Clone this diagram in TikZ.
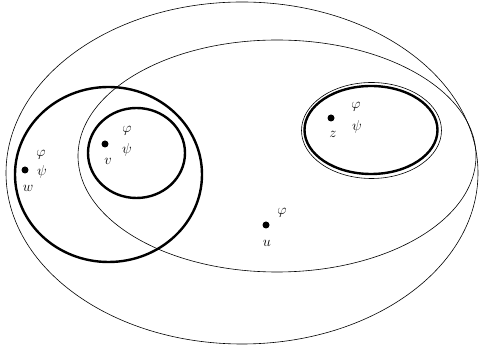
\documentclass[tikz,border=0pt]{standalone}
\begin{document}
\begin{tikzpicture}[x=1pt,y=-1pt,
  thinline/.style={line width=0.6pt},
  thickline/.style={line width=2.4pt},
  world/.style={circle,fill=black,inner sep=0pt,minimum size=7pt},
  lbl/.style={inner sep=0pt,font=\Large}]
\useasboundingbox (0,0) rectangle (480,352);
\draw[thinline] (242,173) ellipse [x radius=236, y radius=171];
\draw[thinline] (277,156) ellipse [x radius=199, y radius=116];
\draw[thickline] (108.5,174.5) ellipse [x radius=93.5, y radius=87.5];
\draw[thickline] (136.5,153) ellipse [x radius=48.5, y radius=45];
\draw[thickline] (371,130) ellipse [x radius=66.5, y radius=44];
\draw[thinline] (371.5,130.5) ellipse [x radius=70, y radius=48];
% worlds
\node[world] (w) at (25,170) {};
\node[world] (v) at (105,144) {};
\node[world] (z) at (331,118) {};
\node[world] (u) at (266,225) {};
% labels
\node[lbl] (wphi) at (41,155) {$\varphi$};
\node[lbl] (wpsi) at (42,172) {$\psi$};
\node[lbl] (wl) at (28,188) {$w$};
\node[lbl] (vphi) at (127,131) {$\varphi$};
\node[lbl] (vpsi) at (127,150) {$\psi$};
\node[lbl] (vl) at (108,161) {$v$};
\node[lbl] (zphi) at (356,107) {$\varphi$};
\node[lbl] (zpsi) at (357,127) {$\psi$};
\node[lbl] (zl) at (333,134) {$z$};
\node[lbl] (uphi) at (282,213) {$\varphi$};
\node[lbl] (ul) at (267,243) {$u$};
\end{tikzpicture}
\end{document}
